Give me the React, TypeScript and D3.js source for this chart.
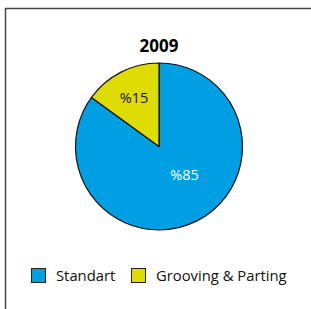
import { useMemo } from 'react';
import * as d3 from 'd3';

const categories = ['Standart', 'Grooving & Parting'];
const values = [85, 15];
const labels = ['%85', '%15'];
const colors = ['#009fe3', '#dedc00'];
const title = '2009';

const WIDTH = 311;
const HEIGHT = 309;
const CX = 159;
const CY = 146.5;
const R = 83.5;
const FONT = '"Open Sans", "Noto Sans", sans-serif';

export default function App() {
    const arcs = useMemo(
        () => d3.pie<number>().sort(null).startAngle(0).endAngle(2 * Math.PI)(values),
        []
    );
    const arc = d3.arc<d3.PieArcDatum<number>>().innerRadius(0).outerRadius(R);

    // label spot inside each slice (fraction along the slice, radius)
    const labelPos = (a: d3.PieArcDatum<number>, i: number) => {
        const t = i === 0 ? 0.45 : 0.5;
        const r = i === 0 ? 38 : 55;
        const ang = a.startAngle + (a.endAngle - a.startAngle) * t;
        return d3.pointRadial(ang, r);
    };

    return (
        <svg width={WIDTH} height={HEIGHT} style={{ position: 'fixed', left: 0, top: 0 }}>
            <rect x={0} y={0} width={WIDTH} height={HEIGHT} fill="#fff" />
            <path d={`M5.5,${HEIGHT}V8.5H${WIDTH}`} fill="none" stroke="#444" strokeWidth={1.5} />
            <text x={CX} y={52} textAnchor="middle" fontFamily={FONT} fontWeight="bold" fontSize={17} fill="#000">
                {title}
            </text>
            <g transform={`translate(${CX},${CY})`}>
                {arcs.map((a, i) => (
                    <path key={categories[i]} d={arc(a) ?? ''} fill={colors[i]} stroke="#111" strokeWidth={1.2} strokeLinejoin="round" />
                ))}
                {arcs.map((a, i) => {
                    const [x, y] = labelPos(a, i);
                    return (
                        <text key={labels[i]} x={x} y={y} dy="0.35em" textAnchor="middle" fontFamily={FONT} fontSize={14.5}
                            fill={i === 0 ? '#fff' : '#111'}>
                            {labels[i]}
                        </text>
                    );
                })}
            </g>
            <g transform="translate(31,268)">
                {categories.map((c, i) => (
                    <g key={c} transform={`translate(${i * 100},0)`}>
                        <rect x={0.5} y={0.5} width={14} height={14} fill={colors[i]} stroke="#222" strokeWidth={1} />
                        <text x={25} y={12.5} fontFamily={FONT} fontSize={14.8} fill="#111">{c}</text>
                    </g>
                ))}
            </g>
        </svg>
    );
}
